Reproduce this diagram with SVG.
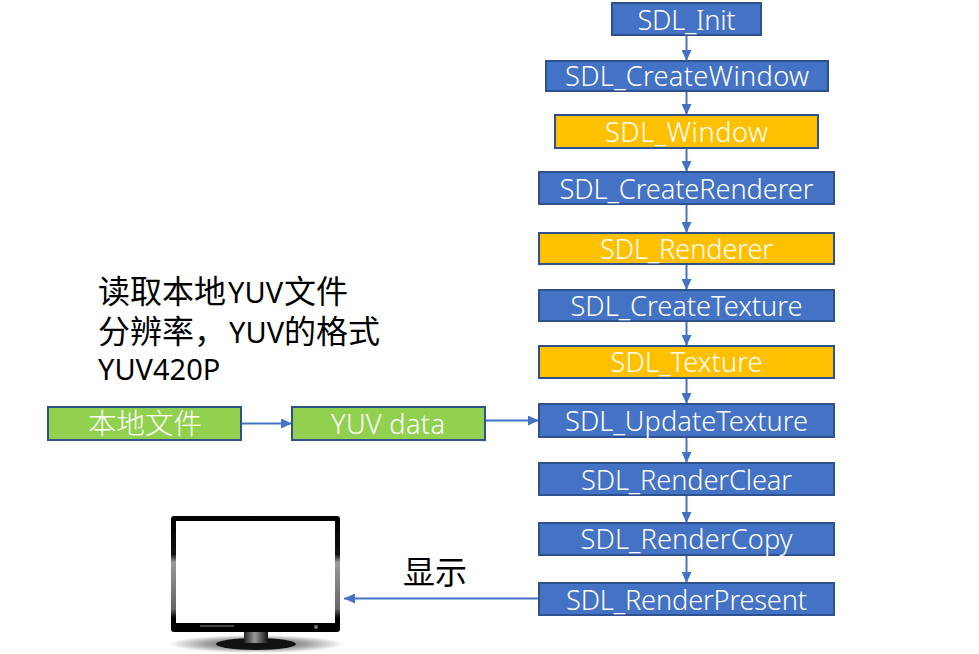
<svg xmlns="http://www.w3.org/2000/svg" width="979" height="654" viewBox="0 0 979 654">
<defs>
<marker id="ah" markerUnits="userSpaceOnUse" markerWidth="11" markerHeight="10" refX="11" refY="5" orient="auto"><path d="M0 0L11 5L0 10Z" fill="#4472c4"/></marker>
<linearGradient id="stem" x1="0" x2="1" y1="0" y2="0"><stop offset="0" stop-color="#222"/><stop offset=".45" stop-color="#999"/><stop offset="1" stop-color="#111"/></linearGradient>
<radialGradient id="shadow"><stop offset="0" stop-color="#000" stop-opacity=".75"/><stop offset=".6" stop-color="#000" stop-opacity=".35"/><stop offset="1" stop-color="#000" stop-opacity="0"/></radialGradient>
<linearGradient id="edge" x1="0" x2="0" y1="0" y2="1"><stop offset="0" stop-color="#000"/><stop offset=".33" stop-color="#111"/><stop offset=".4" stop-color="#999"/><stop offset=".8" stop-color="#666"/><stop offset=".88" stop-color="#000"/><stop offset="1" stop-color="#000"/></linearGradient>
</defs>
<style>
text{font-family:"Noto Sans","Noto Sans CJK SC",sans-serif;}
.n rect{stroke:#2f528f;stroke-width:2;}
.b rect{fill:#4472c4;}
.y rect{fill:#ffc000;}
.g rect{fill:#92d050;}
.n text{fill:#fff;font-size:27.2px;text-anchor:middle;font-weight:300;}
.c line{stroke:#4472c4;stroke-width:2;marker-end:url(#ah);}
.k{fill:#000;font-size:32px;}
.k tspan{font-size:29px;}
</style>
<g id="connectors" class="c">
<line x1="686.500" y1="35" x2="686.500" y2="61"/>
<line x1="686.500" y1="91" x2="686.500" y2="115"/>
<line x1="686.500" y1="148" x2="686.500" y2="172"/>
<line x1="686.500" y1="204" x2="686.500" y2="233"/>
<line x1="686.500" y1="264" x2="686.500" y2="290"/>
<line x1="686.500" y1="321" x2="686.500" y2="346"/>
<line x1="686.500" y1="378" x2="686.500" y2="404"/>
<line x1="686.500" y1="437" x2="686.500" y2="463"/>
<line x1="686.500" y1="495" x2="686.500" y2="523"/>
<line x1="686.500" y1="555" x2="686.500" y2="583"/>
<line x1="241" y1="423.500" x2="292" y2="423.500"/>
<line x1="485" y1="420.500" x2="539" y2="420.500"/>
<line x1="539" y1="598.500" x2="344" y2="598.500"/>
</g>
<g id="n-init" class="n b"><rect x="612" y="3" width="149" height="32"/><text x="686.500" y="30" textLength="98">SDL_Init</text></g>
<g id="n-createwindow" class="n b"><rect x="546" y="61" width="282" height="30"/><text x="687" y="86" textLength="244">SDL_CreateWindow</text></g>
<g id="n-window" class="n y"><rect x="555" y="115" width="263" height="33"/><text x="686.500" y="142" textLength="163">SDL_Window</text></g>
<g id="n-createrenderer" class="n b"><rect x="539" y="172" width="295" height="32"/><text x="686.500" y="199" textLength="254">SDL_CreateRenderer</text></g>
<g id="n-renderer" class="n y"><rect x="539" y="233" width="295" height="31"/><text x="686.500" y="259" textLength="173">SDL_Renderer</text></g>
<g id="n-createtexture" class="n b"><rect x="539" y="290" width="295" height="31"/><text x="686.500" y="316" textLength="232">SDL_CreateTexture</text></g>
<g id="n-texture" class="n y"><rect x="539" y="346" width="295" height="32"/><text x="686.500" y="372" textLength="152">SDL_Texture</text></g>
<g id="n-updatetexture" class="n b"><rect x="539" y="404" width="295" height="33"/><text x="686.500" y="431" textLength="243">SDL_UpdateTexture</text></g>
<g id="n-renderclear" class="n b"><rect x="539" y="463" width="295" height="32"/><text x="686.500" y="490" textLength="211">SDL_RenderClear</text></g>
<g id="n-rendercopy" class="n b"><rect x="539" y="523" width="295" height="32"/><text x="686.500" y="549" textLength="212">SDL_RenderCopy</text></g>
<g id="n-renderpresent" class="n b"><rect x="539" y="583" width="295" height="32"/><text x="686.500" y="610" textLength="241">SDL_RenderPresent</text></g>
<g id="n-file" class="n g"><rect x="48" y="407" width="193" height="33"/><text x="145" y="434" style="font-size:28.5px">本地文件</text></g>
<g id="n-yuv" class="n g"><rect x="292" y="407" width="193" height="33"/><text x="388" y="434" textLength="114">YUV data</text></g>
<g id="note">
<text class="k" x="98" y="303">读取本地<tspan dx="2">YUV</tspan><tspan dx="1" style="font-size:32px">文件</tspan></text>
<text class="k" x="98" y="343">分辨率，<tspan dx="3">YUV</tspan>的格式</text>
<text class="k" x="98" y="380"><tspan>YUV420P</tspan></text>
</g>
<text id="show" class="k" x="403" y="584">显示</text>
<g id="monitor">
<ellipse cx="256" cy="644" rx="88" ry="9" fill="url(#shadow)"/>
<ellipse cx="256" cy="644" rx="40" ry="6" fill="#111"/>
<rect x="244" y="630" width="24" height="13" fill="url(#stem)"/>
<rect x="171" y="516" width="169" height="116" rx="3" fill="url(#edge)"/>
<rect x="176" y="521" width="159" height="102" fill="#fff"/>
<rect x="200" y="625" width="34" height="2" fill="#444"/>
<circle cx="316" cy="627" r="2" fill="#777"/>
</g>
</svg>
